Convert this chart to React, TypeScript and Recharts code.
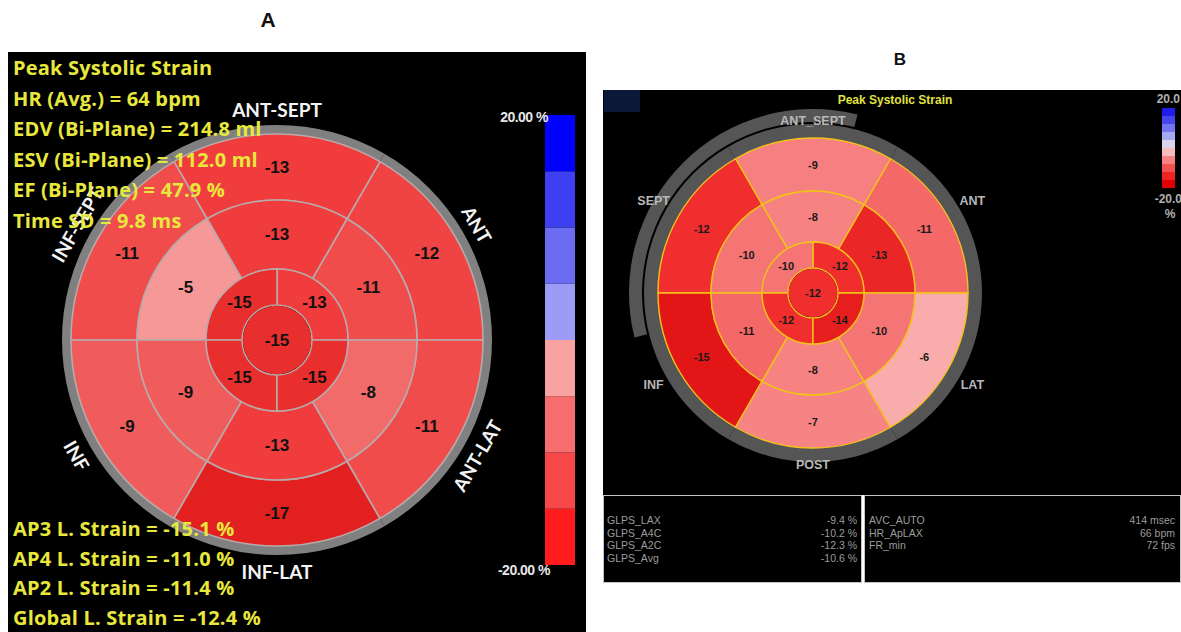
import React from "react";
import { PieChart, Pie, Cell, BarChart, Bar, XAxis, YAxis } from "recharts";

// segment order in every ring: counter-clockwise from 3 o'clock
// basal/mid rings: 0-60, 60-120, 120-180, 180-240, 240-300, 300-360
// apical ring: 0-90, 90-180, 180-270, 270-360
const wallsA = ["ANT", "ANT-SEPT", "INF-SEPT", "INF", "INF-LAT", "ANT-LAT"];
const basalA = [-12, -13, -11, -9, -17, -11];
const midA = [-11, -13, -5, -9, -13, -8];
const apicalA = [-13, -15, -15, -15];
const apexA = [-15];

const infoA = [
  "Peak Systolic Strain",
  "HR (Avg.) = 64 bpm",
  "EDV (Bi-Plane) = 214.8 ml",
  "ESV (Bi-Plane) = 112.0 ml",
  "EF (Bi-Plane) = 47.9 %",
  "Time SD = 9.8 ms",
];
const strainA = [
  "AP3 L. Strain = -15.1 %",
  "AP4 L. Strain = -11.0 %",
  "AP2 L. Strain = -11.4 %",
  "Global L. Strain = -12.4 %",
];
const scaleA = [-20, -15, -10, -5, 0, 5, 10, 15];
const scaleColorsA = ["#ff1c1c", "#f64848", "#f76c6c", "#f9a2a2", "#9c9cf6", "#6b6bf4", "#3f3ff2", "#0000ff"];

const wallsB = ["ANT", "ANT_SEPT", "SEPT", "INF", "POST", "LAT"];
const basalB = [-11, -9, -12, -15, -7, -6];
const midB = [-13, -8, -10, -11, -8, -10];
const apicalB = [-12, -10, -12, -14];
const apexB = [-12];

const scaleB = [-20, -16, -12, -8, -4, 0, 4, 8, 12, 16];
const scaleColorsB = ["#e00000", "#ef2424", "#f55050", "#f88282", "#f9bcbc", "#dcd6ec", "#a8a8f2", "#7474f0", "#4646ec", "#1e1ee8"];

const glpsNames = ["GLPS_LAX", "GLPS_A4C", "GLPS_A2C", "GLPS_Avg"];
const glpsValues = [-9.4, -10.2, -12.3, -10.6];
const acqNames = ["AVC_AUTO", "HR_ApLAX", "FR_min"];
const acqValues = ["414 msec", "66 bpm", "72 fps"];

const RAD = Math.PI / 180;

type Stop = [number, number[]];
const stopsA: Stop[] = [
  [-5, [246, 152, 152]],
  [-9, [240, 92, 92]],
  [-13, [240, 60, 60]],
  [-17, [226, 32, 32]],
];
const stopsB: Stop[] = [
  [-6, [249, 172, 172]],
  [-7, [246, 132, 132]],
  [-9, [246, 128, 128]],
  [-11, [244, 104, 104]],
  [-12, [240, 46, 46]],
  [-15, [226, 22, 22]],
];

const colorFor = (v: number, stops: Stop[]) => {
  if (v >= stops[0][0]) return `rgb(${stops[0][1].join(",")})`;
  for (let i = 1; i < stops.length; i++) {
    const [a, ca] = stops[i - 1];
    const [b, cb] = stops[i];
    if (v >= b) {
      const t = (v - a) / (b - a);
      const c = ca.map((x, k) => Math.round(x + (cb[k] - x) * t));
      return `rgb(${c.join(",")})`;
    }
  }
  return `rgb(${stops[stops.length - 1][1].join(",")})`;
};

const ring = (vals: number[]) => vals.map((v) => ({ strain: v, w: 1 }));

const valueLabel = (fontSize: number, color: string) => (p: any) => {
  const strain = p.payload?.strain ?? p.strain;
  const r = p.innerRadius < 1 ? 0 : (p.innerRadius + p.outerRadius) / 2;
  const x = p.cx + r * Math.cos(-p.midAngle * RAD);
  const y = p.cy + r * Math.sin(-p.midAngle * RAD);
  return (
    <text
      key={`v-${p.index}-${x}`}
      x={x}
      y={y}
      textAnchor="middle"
      dominantBaseline="central"
      fontFamily="'Liberation Sans', Arial, sans-serif"
      fontWeight="bold"
      fontSize={fontSize}
      fill={color}
    >
      {strain}
    </text>
  );
};

// wall names around the ring of panel A, written along the circle
const wallLabelA = (p: any) => {
  const name = p.payload?.name ?? p.name;
  const r = 231;
  const a = p.midAngle;
  const x = p.cx + r * Math.cos(-a * RAD);
  const y = p.cy + r * Math.sin(-a * RAD);
  const upper = Math.sin(a * RAD) > 0;
  const rot = upper ? 90 - a : -90 - a;
  return (
    <text
      key={`w-${p.index}`}
      x={x}
      y={y}
      transform={`rotate(${rot} ${x} ${y})`}
      textAnchor="middle"
      dominantBaseline="central"
      fontFamily="Lato, sans-serif"
      fontWeight="bold"
      fontSize={19}
      fill="#f4f4f4"
    >
      {name}
    </text>
  );
};

const wallLabelB = (p: any) => {
  const name = p.payload?.name ?? p.name;
  const a = p.midAngle;
  const x = p.cx + 184 * Math.cos(-a * RAD);
  const y = p.cy + 172 * Math.sin(-a * RAD) + (Math.abs(Math.sin(a * RAD)) < 0.9 ? -6 * Math.sign(Math.sin(a * RAD)) : 0);
  return (
    <text
      key={`wb-${p.index}`}
      x={x}
      y={y}
      textAnchor="middle"
      dominantBaseline="central"
      fontFamily="'Liberation Sans', Arial, sans-serif"
      fontWeight="bold"
      fontSize={12.5}
      fill="#b8b8b8"
    >
      {name}
    </text>
  );
};

const bandKeys = (steps: number[]) => steps.map((s) => `b${s}`);
const bandRow = (steps: number[]) => {
  const row: Record<string, number | string> = { name: "scale" };
  steps.forEach((s, i) => {
    const next = i + 1 < steps.length ? steps[i + 1] : s + (steps[1] - steps[0]);
    row[`b${s}`] = next - s;
  });
  return [row];
};

const ColorScale = ({ steps, colors, width, height }: { steps: number[]; colors: string[]; width: number; height: number }) => (
  <BarChart width={width} height={height} data={bandRow(steps)} margin={{ top: 0, right: 0, bottom: 0, left: 0 }} barCategoryGap={0}>
    <XAxis dataKey="name" hide />
    <YAxis hide domain={[0, 40]} />
    {bandKeys(steps).map((k, i) => (
      <Bar key={k} dataKey={k} stackId="s" fill={colors[i]} isAnimationActive={false} />
    ))}
  </BarChart>
);

const yellow = "#e8e83c";
const infoFont = "bold 20px 'Open Sans', sans-serif";

const App = () => {
  const cxA = 269;
  const cyA = 288;
  const cxB = 210;
  const cyB = 203;
  const lineA = "#b9a9a9";
  const lineB = "#f2c21a";

  return (
    <div style={{ position: "absolute", left: 0, top: 0, width: 1181, height: 632, background: "#fff", overflow: "hidden" }}>
      <div style={{ position: "absolute", left: 0, top: 8, width: 536, textAlign: "center", font: "bold 21px 'Liberation Sans', Arial, sans-serif", color: "#111" }}>A</div>
      <div style={{ position: "absolute", left: 800, top: 50, width: 200, textAlign: "center", font: "bold 17px 'Liberation Sans', Arial, sans-serif", color: "#111" }}>B</div>

      {/* panel A */}
      <div style={{ position: "absolute", left: 8, top: 52, width: 578, height: 580, background: "#000" }}>
        <PieChart width={578} height={580} margin={{ top: 0, right: 0, bottom: 0, left: 0 }}>
          <Pie data={wallsA.map((n) => ({ name: n, w: 1 }))} dataKey="w" cx={cxA} cy={cyA} innerRadius={205} outerRadius={215} startAngle={0} endAngle={360} stroke="none" fill="#808080" label={wallLabelA} labelLine={false} isAnimationActive={false} />
          <Pie data={ring(basalA)} dataKey="w" cx={cxA} cy={cyA} innerRadius={140} outerRadius={206} startAngle={0} endAngle={360} label={valueLabel(17, "#111")} labelLine={false} isAnimationActive={false}>
            {basalA.map((v, i) => <Cell key={i} fill={colorFor(v, stopsA)} stroke={lineA} strokeWidth={1.6} />)}
          </Pie>
          <Pie data={ring(midA)} dataKey="w" cx={cxA} cy={cyA} innerRadius={71} outerRadius={140} startAngle={0} endAngle={360} label={valueLabel(17, "#111")} labelLine={false} isAnimationActive={false}>
            {midA.map((v, i) => <Cell key={i} fill={colorFor(v, stopsA)} stroke={lineA} strokeWidth={1.6} />)}
          </Pie>
          <Pie data={ring(apicalA)} dataKey="w" cx={cxA} cy={cyA} innerRadius={35} outerRadius={71} startAngle={0} endAngle={360} label={valueLabel(17, "#111")} labelLine={false} isAnimationActive={false}>
            {apicalA.map((v, i) => <Cell key={i} fill={colorFor(v, stopsA)} stroke={lineA} strokeWidth={1.6} />)}
          </Pie>
          <Pie data={ring(apexA)} dataKey="w" cx={cxA} cy={cyA} innerRadius={0} outerRadius={34.2} startAngle={0} endAngle={360} label={valueLabel(17, "#111")} labelLine={false} isAnimationActive={false}>
            {apexA.map((v, i) => <Cell key={i} fill={colorFor(v, stopsA)} stroke="none" />)}
          </Pie>
        </PieChart>
      </div>
      <div style={{ position: "absolute", left: 545, top: 115 }}>
        <ColorScale steps={scaleA} colors={scaleColorsA} width={30} height={450} />
      </div>
      <div style={{ position: "absolute", left: 447, top: 109, width: 101, textAlign: "right", font: "bold 14px 'Liberation Sans', Arial, sans-serif", color: "#e6e6e6", letterSpacing: -0.5 }}>20.00 %</div>
      <div style={{ position: "absolute", left: 449, top: 562, width: 101, textAlign: "right", font: "bold 14px 'Liberation Sans', Arial, sans-serif", color: "#e6e6e6", letterSpacing: -0.5 }}>-20.00 %</div>
      <div style={{ position: "absolute", left: 13, top: 53, font: infoFont, lineHeight: "30.6px", color: yellow, whiteSpace: "pre", letterSpacing: 0.2 }}>
        {infoA.map((t) => <div key={t}>{t}</div>)}
      </div>
      <div style={{ position: "absolute", left: 13, top: 514, font: infoFont, lineHeight: "29.5px", color: yellow, whiteSpace: "pre", letterSpacing: 0.2 }}>
        {strainA.map((t) => <div key={t}>{t}</div>)}
      </div>

      {/* panel B */}
      <div style={{ position: "absolute", left: 603, top: 90, width: 578, height: 405, background: "#000" }}>
        <div style={{ position: "absolute", left: 1, top: 0, width: 36, height: 22, background: "#0b1838" }} />
        <PieChart width={578} height={405} margin={{ top: 0, right: 0, bottom: 0, left: 0 }}>
          <Pie data={[{ w: 1 }]} dataKey="w" cx={cxB} cy={cyB} innerRadius={171} outerRadius={184} startAngle={76} endAngle={194} stroke="none" fill="#555" isAnimationActive={false} />
          <Pie data={wallsB.map((n) => ({ name: n, w: 1 }))} dataKey="w" cx={cxB} cy={cyB} innerRadius={154} outerRadius={169} startAngle={0} endAngle={360} stroke="none" fill="#555" label={wallLabelB} labelLine={false} isAnimationActive={false} />
          <Pie data={ring(basalB)} dataKey="w" cx={cxB} cy={cyB} innerRadius={102} outerRadius={155} startAngle={0} endAngle={360} label={valueLabel(11, "#1a1a1a")} labelLine={false} isAnimationActive={false}>
            {basalB.map((v, i) => <Cell key={i} fill={colorFor(v, stopsB)} stroke={lineB} strokeWidth={1.4} />)}
          </Pie>
          <Pie data={ring(midB)} dataKey="w" cx={cxB} cy={cyB} innerRadius={51} outerRadius={102} startAngle={0} endAngle={360} label={valueLabel(11, "#1a1a1a")} labelLine={false} isAnimationActive={false}>
            {midB.map((v, i) => <Cell key={i} fill={colorFor(v, stopsB)} stroke={lineB} strokeWidth={1.4} />)}
          </Pie>
          <Pie data={ring(apicalB)} dataKey="w" cx={cxB} cy={cyB} innerRadius={25} outerRadius={51} startAngle={0} endAngle={360} label={valueLabel(11, "#1a1a1a")} labelLine={false} isAnimationActive={false}>
            {apicalB.map((v, i) => <Cell key={i} fill={colorFor(v, stopsB)} stroke={lineB} strokeWidth={1.4} />)}
          </Pie>
          <Pie data={ring(apexB)} dataKey="w" cx={cxB} cy={cyB} innerRadius={0} outerRadius={24.3} startAngle={0} endAngle={360} label={valueLabel(11, "#1a1a1a")} labelLine={false} isAnimationActive={false}>
            {apexB.map((v, i) => <Cell key={i} fill={colorFor(v, stopsB)} stroke="none" />)}
          </Pie>
        </PieChart>
        <div style={{ position: "absolute", left: 192, top: 3, width: 200, textAlign: "center", font: "bold 12px 'Liberation Sans', Arial, sans-serif", color: "#e0e040" }}>Peak Systolic Strain</div>
        <div style={{ position: "absolute", left: 559, top: 18 }}>
          <ColorScale steps={scaleB} colors={scaleColorsB} width={13} height={80} />
        </div>
        <div style={{ position: "absolute", left: 478, top: 2, width: 99, textAlign: "right", font: "bold 12px 'Liberation Sans', Arial, sans-serif", color: "#b0b0b0" }}>20.0</div>
        <div style={{ position: "absolute", left: 480, top: 102, width: 99, textAlign: "right", font: "bold 12px 'Liberation Sans', Arial, sans-serif", color: "#b0b0b0" }}>-20.0</div>
        <div style={{ position: "absolute", left: 560, top: 117, width: 14, textAlign: "center", font: "bold 12px 'Liberation Sans', Arial, sans-serif", color: "#b0b0b0" }}>%</div>
      </div>

      {/* panel B tables */}
      <div style={{ position: "absolute", left: 603, top: 495, width: 257, height: 86, background: "#000", border: "1px solid #c4c4c4", font: "10.5px 'Liberation Sans', Arial, sans-serif", color: "#9c9c9c" }}>
        {glpsNames.map((n, i) => (
          <div key={n} style={{ position: "absolute", left: 3, right: 4, top: 18 + i * 12.7, display: "flex", justifyContent: "space-between" }}>
            <span>{n}</span>
            <span>{glpsValues[i].toFixed(1)} %</span>
          </div>
        ))}
      </div>
      <div style={{ position: "absolute", left: 864, top: 495, width: 315, height: 86, background: "#000", border: "1px solid #c4c4c4", font: "10.5px 'Liberation Sans', Arial, sans-serif", color: "#9c9c9c" }}>
        {acqNames.map((n, i) => (
          <div key={n} style={{ position: "absolute", left: 4, right: 5, top: 18 + i * 12.7, display: "flex", justifyContent: "space-between" }}>
            <span>{n}</span>
            <span>{acqValues[i]}</span>
          </div>
        ))}
      </div>
    </div>
  );
};

export default App;
